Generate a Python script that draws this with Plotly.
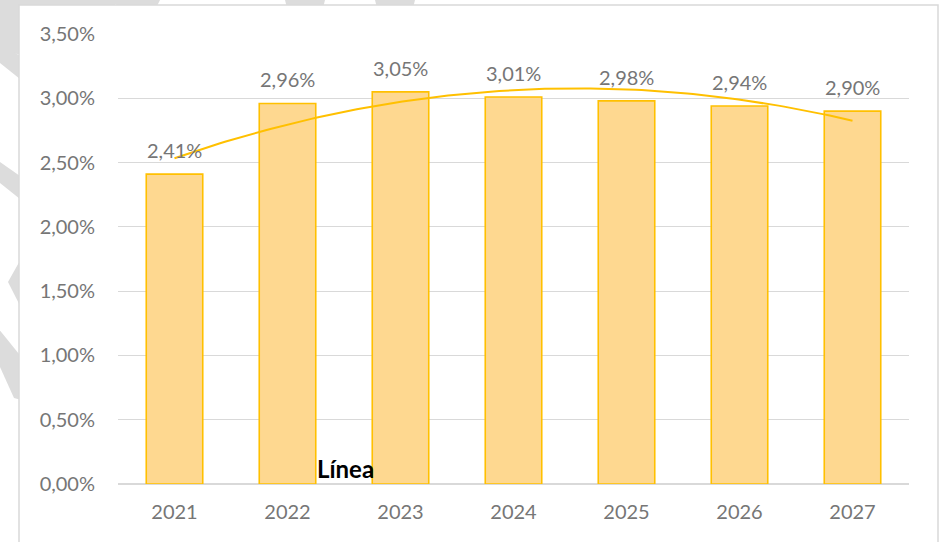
import numpy as np
import plotly.graph_objects as go

years = ["2021", "2022", "2023", "2024", "2025", "2026", "2027"]
values = [2.41, 2.96, 3.05, 3.01, 2.98, 2.94, 2.90]
y_ticks = [0.0, 0.5, 1.0, 1.5, 2.0, 2.5, 3.0, 3.5]
note_text = "Línea"

W, H = 940, 542
L, R, T, B = 118, 909, 34, 484


def px(x):
    return (x - L) / (R - L)


def py(y):
    return 1 - (y - T) / (B - T)


xs = np.arange(len(years))
# Excel-style 2nd order polynomial trendline computed from the data
coef = np.polyfit(xs, values, 2)
xt = np.linspace(xs[0], xs[-1], 120)
yt = np.polyval(coef, xt)

GOLD = "#FFC000"
TXT = "#767676"
FONT = "Lato"

fig = go.Figure()
fig.add_trace(go.Bar(
    x=xs, y=values, width=0.5,
    marker=dict(color="#FED890", line=dict(color=GOLD, width=1.6)),
    hoverinfo="skip", showlegend=False,
))
fig.add_trace(go.Scatter(
    x=xt, y=yt, mode="lines", line=dict(color=GOLD, width=2),
    hoverinfo="skip", showlegend=False,
))

for x, v in zip(xs, values):
    fig.add_annotation(
        x=x, y=v, text=f"{v:.2f}%".replace(".", ","), showarrow=False,
        yanchor="bottom", yshift=10,
        font=dict(family=FONT, size=20, color=TXT),
    )

fig.add_annotation(
    x=px(345), y=py(468), xref="paper", yref="paper", text=f"<b>{note_text}</b>",
    xanchor="center", yanchor="middle",
    showarrow=False, font=dict(family=FONT, size=24, color="#000000"),
)

# background watermark fragments (decorative) and chart frame
G = "#DCDCDC"
stripes = [
    [(-10, -20), (140, -20), (60, 60), (-10, 50)],
    [(110, -20), (170, -20), (150, 20), (120, 20)],
    [(280, -20), (330, -20), (320, 20), (290, 20)],
    [(370, -20), (420, -20), (410, 20), (380, 20)],
    [(-10, 35), (-10, 55), (40, 95), (40, 70)],
    [(-10, 155), (-10, 175), (40, 215), (40, 190)],
    [(40, 200), (40, 225), (8, 282), (40, 345), (40, 320), (28, 282), (40, 258)],
    [(-10, 318), (-10, 345), (14, 398), (40, 405), (40, 380)],
]
shapes = []
for poly in stripes:
    d = "M " + " L ".join(f"{px(a):.5f},{py(b):.5f}" for a, b in poly) + " Z"
    shapes.append(dict(type="path", xref="paper", yref="paper", path=d,
                       fillcolor=G, line=dict(width=0), layer="below"))
shapes.append(dict(type="rect", xref="paper", yref="paper",
                   x0=px(19), x1=px(938), y0=py(5), y1=py(560),
                   fillcolor="white", line=dict(color="#D9D9D9", width=1.5),
                   layer="below"))

fig.update_layout(
    width=W, height=H,
    margin=dict(l=L, r=W - R, t=T, b=H - B, pad=0),
    paper_bgcolor="white", plot_bgcolor="rgba(0,0,0,0)",
    shapes=shapes,
    bargap=0.5,
    xaxis=dict(
        range=[-0.5, len(years) - 0.5], tickvals=list(xs), ticktext=years,
        showgrid=False, zeroline=False, showline=False, ticks="",
        ticklabelstandoff=14,
        tickfont=dict(family=FONT, size=20, color=TXT),
    ),
    yaxis=dict(
        range=[0, 3.5], tickvals=y_ticks,
        ticktext=[f"{t:.2f}%".replace(".", ",") for t in y_ticks],
        showgrid=True, gridcolor="#D9D9D9", gridwidth=1.3,
        zeroline=True, zerolinecolor="#D9D9D9", zerolinewidth=1.5,
        showline=False, ticks="", ticklabelstandoff=22,
        tickfont=dict(family=FONT, size=20, color=TXT),
    ),
)

fig.write_html(
    "out.html",
    config={"displayModeBar": False},
    post_script="document.body.style.margin='0';document.body.style.overflow='hidden';",
)
